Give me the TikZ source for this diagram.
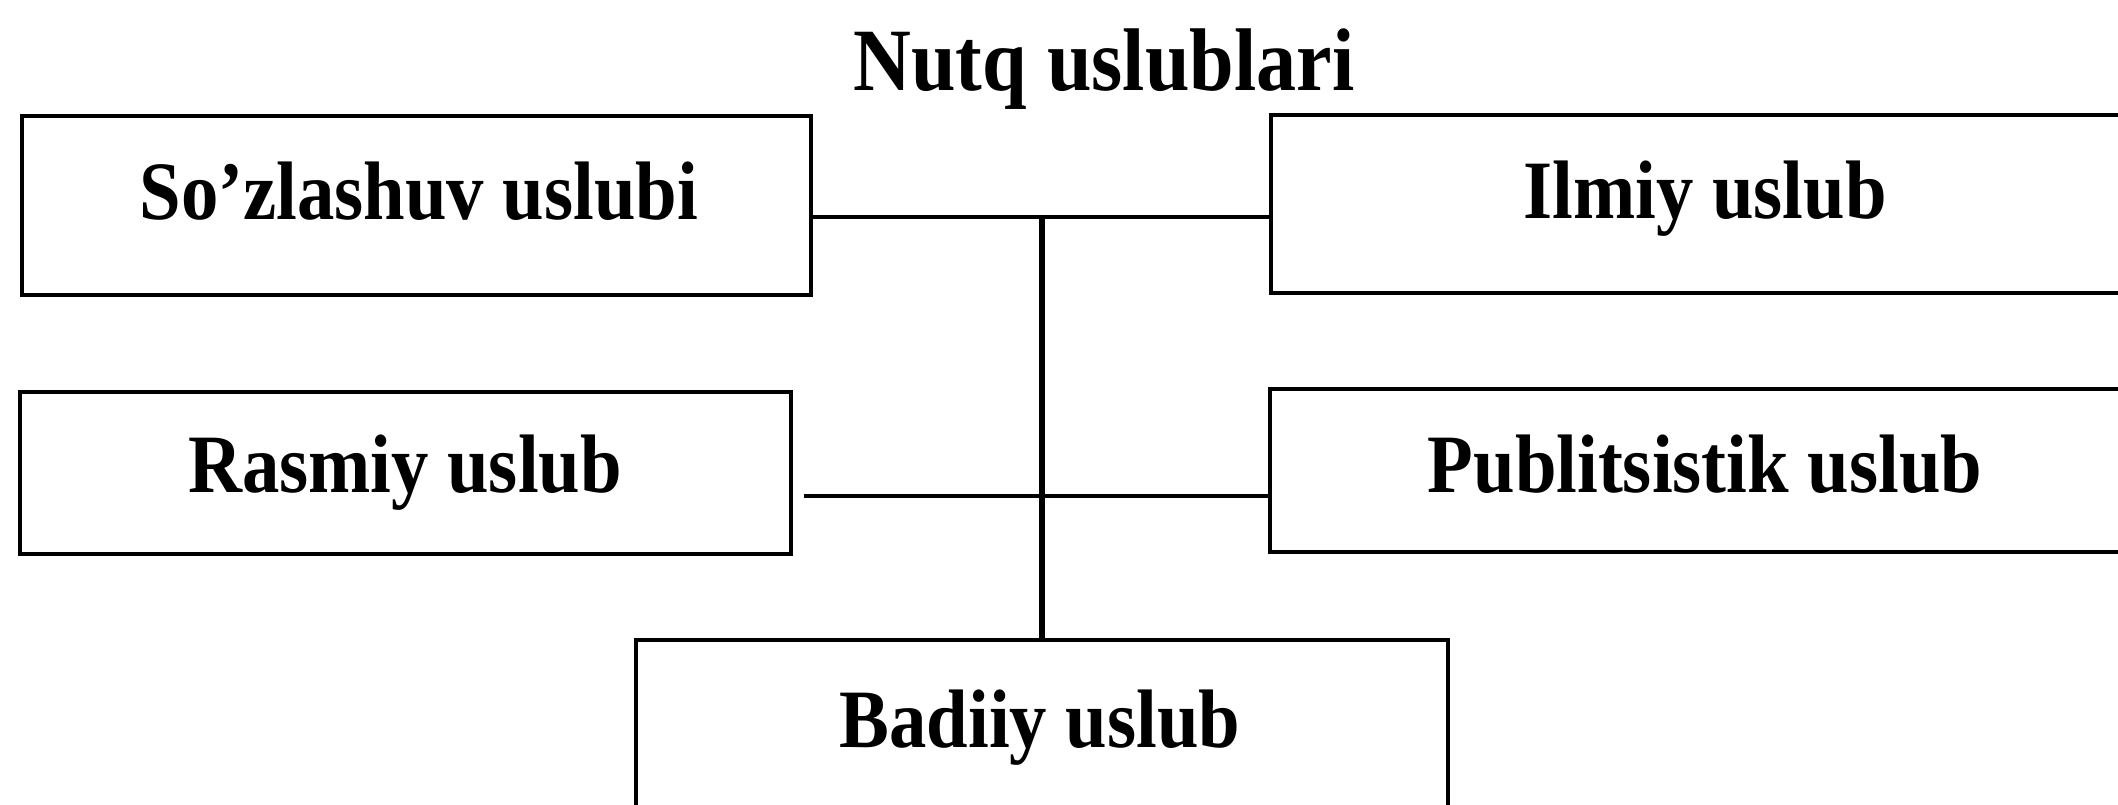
\documentclass[tikz,border=0pt]{standalone}
\usepackage{fontspec}
\setmainfont{Liberation Serif}[FakeStretch=0.9]
\begin{document}
\begin{tikzpicture}[x=0.5pt,y=-0.5pt,
  box/.style={draw, line width=2pt, inner sep=0pt},
  lbl/.style={font=\fontsize{41.5}{48}\selectfont\bfseries, inner sep=0pt, anchor=base},
  ttl/.style={font=\fontsize{44.5}{50}\selectfont\bfseries, inner sep=0pt, anchor=base},
  conn/.style={line width=2pt},
  vconn/.style={line width=2.7pt}]
\clip (0,0) rectangle (2118,804);
% boxes
\node[box, minimum width=394.5pt, minimum height=89.5pt] (b1) at (416.5,205.5) {};
\node[box, minimum width=444.5pt, minimum height=89pt]   (b2) at (1715.5,204) {};
\node[box, minimum width=385.5pt, minimum height=81pt]   (b3) at (405.5,472.5) {};
\node[box, minimum width=445pt,   minimum height=81.5pt] (b4) at (1715,470.5) {};
\node[box, minimum width=406pt,   minimum height=105pt]  (b5) at (1042,745)   {};
% texts
\node[ttl] (title) at (1104,90) {Nutq uslublari};
\node[lbl] (t1) at (419,219) {So’zlashuv uslubi};
\node[lbl] (t2) at (1705,218) {Ilmiy uslub};
\node[lbl] (t3) at (405,492) {Rasmiy uslub};
\node[lbl] (t4) at (1705,492) {Publitsistik uslub};
\node[lbl] (t5) at (1040,747) {Badiiy uslub};
% connectors
\coordinate (j1) at (1042,217);
\coordinate (j2) at (1042,496);
\draw[conn] (b1.east |- j1) -- (b2.west |- j1);
\draw[conn] ([xshift=5.5pt]b3.east |- j2) -- (b4.west |- j2);
\draw[vconn] (j1) -- (b5.north);
\end{tikzpicture}
\end{document}
